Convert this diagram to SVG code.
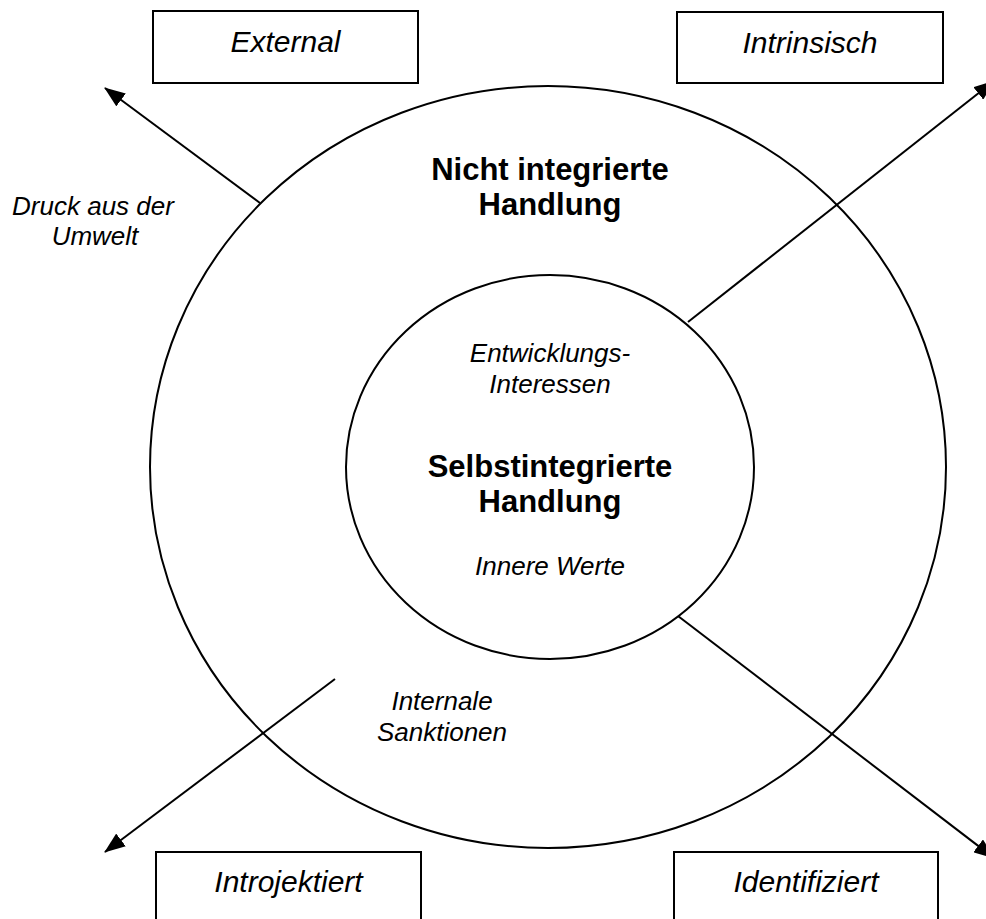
<svg xmlns="http://www.w3.org/2000/svg" width="986" height="919" viewBox="0 0 986 919">
  <style>
    .shape { fill: none; stroke: #000; stroke-width: 2; }
    .box { fill: #fff; stroke: #000; stroke-width: 2; }
    .lbl { font-family: "Liberation Sans", Arial, sans-serif; font-style: italic; font-size: 26px; fill: #000; text-anchor: middle; }
    .boxlbl { font-family: "Liberation Sans", Arial, sans-serif; font-style: italic; font-size: 30px; fill: #000; text-anchor: middle; }
    .title { font-family: "Liberation Sans", Arial, sans-serif; font-weight: bold; font-size: 31px; fill: #000; text-anchor: middle; }
    .conn { fill: none; stroke: #000; stroke-width: 2; }
  </style>
  <defs>
    <marker id="arrow" viewBox="0 0 21 16" refX="20" refY="8" markerWidth="21" markerHeight="16" markerUnits="userSpaceOnUse" orient="auto">
      <path d="M0,0 L21,8 L0,16 z" fill="#000"/>
    </marker>
  </defs>
  <rect width="986" height="919" fill="#fff"/>

  <g id="outer-circle">
    <ellipse class="shape" cx="548" cy="467" rx="398" ry="381"/>
    <text class="title" x="550" y="180">Nicht integrierte</text>
    <text class="title" x="550" y="215">Handlung</text>
  </g>

  <g id="inner-circle">
    <ellipse class="shape" cx="550" cy="467" rx="204" ry="192"/>
    <text class="lbl" x="550" y="362">Entwicklungs-</text>
    <text class="lbl" x="550" y="393">Interessen</text>
    <text class="title" x="550" y="477">Selbstintegrierte</text>
    <text class="title" x="550" y="512">Handlung</text>
    <text class="lbl" x="550" y="575">Innere Werte</text>
  </g>

  <g id="connectors">
    <line class="conn" x1="260" y1="203" x2="105" y2="88" marker-end="url(#arrow)"/>
    <line class="conn" x1="688" y1="322" x2="994" y2="81" marker-end="url(#arrow)"/>
    <line class="conn" x1="335" y1="679" x2="105" y2="852" marker-end="url(#arrow)"/>
    <line class="conn" x1="678" y1="616" x2="994" y2="858" marker-end="url(#arrow)"/>
  </g>

  <g id="label-druck">
    <text class="lbl" x="93" y="215">Druck aus der</text>
    <text class="lbl" x="95" y="245">Umwelt</text>
  </g>

  <g id="label-internale">
    <text class="lbl" x="442" y="710">Internale</text>
    <text class="lbl" x="442" y="741">Sanktionen</text>
  </g>

  <g id="box-external">
    <rect class="box" x="153" y="11" width="265" height="72"/>
    <text class="boxlbl" x="285.5" y="52">External</text>
  </g>

  <g id="box-intrinsisch">
    <rect class="box" x="677" y="12" width="266" height="71"/>
    <text class="boxlbl" x="810" y="53">Intrinsisch</text>
  </g>

  <g id="box-introjektiert">
    <rect class="box" x="156" y="852" width="265" height="80"/>
    <text class="boxlbl" x="288.5" y="892">Introjektiert</text>
  </g>

  <g id="box-identifiziert">
    <rect class="box" x="674" y="852" width="264" height="80"/>
    <text class="boxlbl" x="806" y="892">Identifiziert</text>
  </g>
</svg>
